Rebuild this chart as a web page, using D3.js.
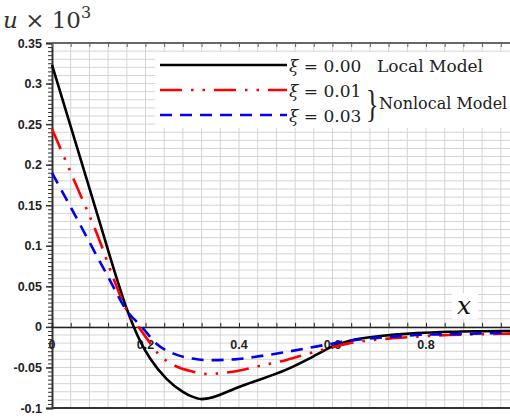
<!DOCTYPE html>
<html><head><meta charset="utf-8">
<script src="https://cdn.jsdelivr.net/npm/d3@7"></script>
<style>body{margin:0;background:#fff;overflow:hidden}svg{display:block}</style>
</head><body><div id="chart"></div>
<script>
const xLocal = [0,0.05,0.1,0.14,0.16,0.175,0.19,0.21,0.245,0.28,0.30,0.32,0.335,0.4,0.424,0.5,0.567,0.6,0.637,0.708,0.78,0.85,0.92,1.0];
const yLocal = [0.323,0.228,0.133,0.057,0.022,0,-0.019,-0.039,-0.064,-0.080,-0.086,-0.089,-0.088,-0.074,-0.069,-0.053,-0.034,-0.024,-0.017,-0.011,-0.0077,-0.006,-0.0053,-0.005];
const xNl1 = [0,0.05,0.1,0.13,0.16,0.185,0.2,0.227,0.26,0.3,0.33,0.39,0.445,0.5,0.567,0.637,0.708,0.78,0.85,0.92,1.0];
const yNl1 = [0.244,0.177,0.109,0.062,0.020,0,-0.012,-0.033,-0.047,-0.055,-0.058,-0.055,-0.048,-0.041,-0.030,-0.020,-0.015,-0.012,-0.010,-0.009,-0.008];
const xNl3 = [0,0.05,0.1,0.117,0.16,0.192,0.224,0.26,0.3,0.33,0.39,0.445,0.5,0.567,0.637,0.708,0.78,0.85,0.92,1.0];
const yNl3 = [0.190,0.137,0.083,0.065,0.020,0,-0.021,-0.033,-0.039,-0.041,-0.040,-0.036,-0.031,-0.024,-0.017,-0.013,-0.010,-0.009,-0.008,-0.007];
const yTickLabels = ["0.35","0.3","0.25","0.2","0.15","0.1","0.05","0","-0.05","-0.1"];
const yTickValues = [0.35,0.3,0.25,0.2,0.15,0.1,0.05,0,-0.05,-0.1];
const xTickValues = [0,0.2,0.4,0.6,0.8];
const xTickLabels = ["0","0.2","0.4","0.6","0.8"];
const legendLabels = ["0.00","0.01","0.03"];

const W=510,H=419;
const svg=d3.select("#chart").append("svg").attr("width",W).attr("height",H);
const x=d3.scaleLinear().domain([0,1]).range([52,519.5]);
const y=d3.scaleLinear().domain([-0.1,0.35]).range([408,43]);

const g=svg.append("g");
// grid
g.selectAll(".hg").data(d3.range(-0.1,0.3501,0.01)).join("line")
 .attr("x1",x(0)).attr("x2",W).attr("y1",d=>y(d)).attr("y2",d=>y(d))
 .attr("stroke","#d4d4d4").attr("stroke-width",1);
g.selectAll(".vg").data(d3.range(0.04,1.0,0.04)).join("line")
 .attr("x1",d=>x(d)).attr("x2",d=>x(d)).attr("y1",y(0.35)).attr("y2",y(-0.1))
 .attr("stroke","#d4d4d4").attr("stroke-width",1);

// y axis
const yAxis=d3.axisLeft(y).tickValues(yTickValues).tickFormat((d,i)=>yTickLabels[i]).tickSize(6).tickPadding(4);
const ya=svg.append("g").attr("transform",`translate(${x(0)},0)`).call(yAxis);
ya.select(".domain").attr("stroke","#333").attr("stroke-width",2);
ya.selectAll(".tick line").attr("stroke","#333").attr("stroke-width",1.5);
ya.selectAll("text").attr("font-family","Liberation Sans, Arial, sans-serif").attr("font-weight","bold").attr("font-size",12.5).attr("fill","#222").attr("x",-10);
const yMinor=d3.axisLeft(y).tickValues(d3.range(-0.1,0.3501,0.005)).tickFormat("").tickSize(4);
const ym=svg.append("g").attr("transform",`translate(${x(0)},0)`).call(yMinor);
ym.select(".domain").remove();
ym.selectAll(".tick line").attr("stroke","#333").attr("stroke-width",1);

// top and bottom borders
svg.append("line").attr("x1",x(0)).attr("x2",W).attr("y1",y(0.35)).attr("y2",y(0.35)).attr("stroke","#666").attr("stroke-width",2);
svg.append("line").attr("x1",x(0)).attr("x2",W).attr("y1",y(-0.1)).attr("y2",y(-0.1)).attr("stroke","#333").attr("stroke-width",2);
const topT=d3.axisBottom(x).tickValues(d3.range(0,1.0,0.04)).tickFormat("").tickSize(4);
const tt=svg.append("g").attr("transform",`translate(0,${y(0.35)})`).call(topT);
tt.select(".domain").remove(); tt.selectAll(".tick line").attr("stroke","#666");

// zero x axis
const xAxis=d3.axisTop(x).tickValues(d3.range(0,1.0,0.04)).tickFormat("").tickSize(4);
const xa=svg.append("g").attr("transform",`translate(0,${y(0)})`).call(xAxis);
xa.select(".domain").attr("stroke","#222").attr("stroke-width",1.5);
xa.selectAll(".tick line").attr("stroke","#222");
svg.append("g").selectAll("text").data(xTickValues).join("text")
 .attr("x",d=>x(d)).attr("y",y(0)+22).attr("text-anchor","middle")
 .attr("font-family","Liberation Sans, Arial, sans-serif").attr("font-weight","bold").attr("font-size",12.5).attr("fill","#222")
 .text((d,i)=>xTickLabels[i]);

// curves
const line=d3.line().x(d=>x(d[0])).y(d=>y(d[1])).curve(d3.curveMonotoneX);
const series=[
 {xs:xLocal,ys:yLocal,color:"#000",dash:null},
 {xs:xNl1,ys:yNl1,color:"#ff0000",dash:"22,9,2.5,9,2.5,9"},
 {xs:xNl3,ys:yNl3,color:"#0000ee",dash:"12,8"}
];
series.forEach(s=>{
 svg.append("path").datum(s.xs.map((v,i)=>[v,s.ys[i]])).attr("d",line)
  .attr("fill","none").attr("stroke",s.color).attr("stroke-width",2.6)
  .attr("stroke-dasharray",s.dash);
});

// x label
svg.append("rect").attr("x",452).attr("y",293).attr("width",26).attr("height",26).attr("fill","#fff");
svg.append("text").attr("x",457).attr("y",314).attr("font-family","DejaVu Serif, serif").attr("font-style","italic").attr("font-size",25).attr("fill","#111").text("x");

// title
const t=svg.append("text").attr("x",3).attr("y",28).attr("font-family","DejaVu Serif, serif").attr("font-size",23).attr("fill","#333");
t.append("tspan").attr("font-style","italic").text("u");
t.append("tspan").text(" × 10");
t.append("tspan").attr("font-size",16).attr("dy",-10).text("3");

// legend
svg.append("rect").attr("x",155).attr("y",52).attr("width",W-155).attr("height",76).attr("fill","#fff");
const ly=[65,90,115];
series.forEach((s,i)=>{
 svg.append("line").attr("x1",160).attr("x2",287).attr("y1",ly[i]).attr("y2",ly[i])
  .attr("stroke",s.color).attr("stroke-width",2.6).attr("stroke-dasharray",s.dash);
 const tx=svg.append("text").attr("x",289).attr("y",ly[i]+7).attr("font-family","DejaVu Serif, serif").attr("font-size",17).attr("fill","#222");
 tx.append("tspan").attr("font-style","italic").text("ξ");
 tx.append("tspan").text(" = "+legendLabels[i]);
});
svg.append("text").attr("x",377).attr("y",72).attr("font-family","DejaVu Serif, serif").attr("font-size",17).attr("fill","#222").text("Local Model");
svg.append("text").attr("transform","translate(366,117) scale(1,1.45)").attr("font-family","Liberation Serif, serif").attr("font-size",26).attr("fill","#222").text("}");
svg.append("text").attr("x",379).attr("y",109).attr("font-family","DejaVu Serif, serif").attr("font-size",16).attr("fill","#222").text("Nonlocal Model");
</script></body></html>
